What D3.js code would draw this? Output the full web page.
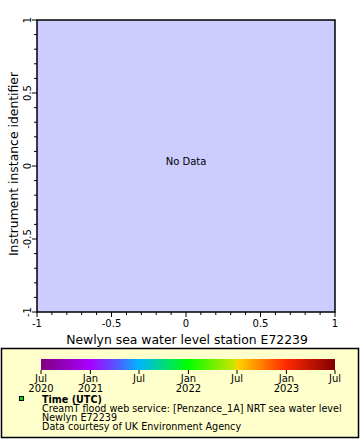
<!DOCTYPE html>
<html><head><meta charset="utf-8">
<script src="https://cdn.jsdelivr.net/npm/d3@7"></script>
<style>body{margin:0;background:#fff}svg{display:block;font-family:"DejaVu Sans",sans-serif}</style>
</head><body>
<svg id="c" width="360" height="440"></svg>
<script>
const xDomain = [-1, 1];
const yDomain = [-1, 1];
const xTicks = [-1, -0.5, 0, 0.5, 1];
const yTicks = [-1, -0.5, 0, 0.5, 1];
const xTickLabels = ["-1", "-0.5", "0", "0.5", "1"];
const yTickLabels = ["-1", "-0.5", "0", "0.5", "1"];
const timeDomain = ["2020-07-01", "2023-07-01"];
const timeTicks = ["2020-07-01","2021-01-01","2021-07-01","2022-01-01","2022-07-01","2023-01-01","2023-07-01"];
const timeTickLabels = [["Jul","2020"],["Jan","2021"],["Jul",""],["Jan","2022"],["Jul",""],["Jan","2023"],["Jul",""]];
const paletteStops = [0, 0.167, 0.25, 0.333, 0.5, 0.66, 0.667, 0.833, 1];
const paletteColors = ["#800080","#a800ff","#5a50ff","#00b4ff","#00ff00","#d0e400","#ffd400","#ff2a00","#800000"];
const legendLines = ["CreamT flood web service: [Penzance_1A] NRT sea water level","Newlyn E72239","Data courtesy of UK Environment Agency"];
const legendTitle = "Time (UTC)";
const xTitle = "Newlyn sea water level station E72239";
const yTitle = "Instrument instance identifier";
const noDataText = "No Data";

const svg = d3.select("#c");
const L = 37, R = 335, T = 20, B = 312;
const x = d3.scaleLinear().domain(xDomain).range([L, R]);
const y = d3.scaleLinear().domain(yDomain).range([B, T]);

svg.append("rect").attr("x", L).attr("y", T).attr("width", R - L).attr("height", B - T)
  .attr("fill", "#ccccff").attr("stroke", "#000").attr("stroke-width", 1.5);

const minor = d3.range(-10, 11).map(d => d / 10);
const gx = svg.append("g").attr("stroke", "#000").attr("stroke-width", 1);
minor.forEach(v => {
  const major = Math.abs(v * 2 - Math.round(v * 2)) < 1e-9;
  gx.append("line").attr("x1", x(v)).attr("x2", x(v)).attr("y1", B).attr("y2", B + (major ? 5 : 3));
  gx.append("line").attr("y1", y(v)).attr("y2", y(v)).attr("x1", L).attr("x2", L - (major ? 5 : 3));
});

xTicks.forEach((v, i) => {
  svg.append("text").attr("x", x(v)).attr("y", 327).attr("text-anchor", "middle")
    .attr("font-size", 10).text(xTickLabels[i]);
});
yTicks.forEach((v, i) => {
  svg.append("text").attr("transform", `translate(31,${y(v)}) rotate(-90)`).attr("text-anchor", "middle")
    .attr("font-size", 10).text(yTickLabels[i]);
});

svg.append("text").attr("x", 187).attr("y", 344).attr("text-anchor", "middle")
  .attr("font-size", 12.4).text(xTitle);
svg.append("text").attr("transform", `translate(18,${(T + B) / 2 - 2}) rotate(-90)`).attr("text-anchor", "middle")
  .attr("font-size", 12.4).text(yTitle);

svg.append("text").attr("x", x(0)).attr("y", y(0) - 1).attr("text-anchor", "middle")
  .attr("font-size", 10).text(noDataText);

svg.append("rect").attr("x", 1.5).attr("y", 348.5).attr("width", 357).attr("height", 89)
  .attr("fill", "#ffffcc").attr("stroke", "#000").attr("stroke-width", 1.5);

const t = d3.scaleTime().domain(timeDomain.map(d => new Date(d))).range([41, 335]);
const defs = svg.append("defs");
const grad = defs.append("linearGradient").attr("id", "pal");
paletteStops.forEach((s, i) => grad.append("stop").attr("offset", s).attr("stop-color", paletteColors[i]));
svg.append("rect").attr("x", 41).attr("y", 359).attr("width", 294).attr("height", 11).attr("fill", "url(#pal)");

timeTicks.forEach((d, i) => {
  const xx = t(new Date(d));
  svg.append("line").attr("x1", xx).attr("x2", xx).attr("y1", 370).attr("y2", 374).attr("stroke", "#000");
  svg.append("text").attr("x", xx).attr("y", 382).attr("text-anchor", "middle").attr("font-size", 10).text(timeTickLabels[i][0]);
  if (timeTickLabels[i][1]) svg.append("text").attr("x", xx).attr("y", 392).attr("text-anchor", "middle").attr("font-size", 10).text(timeTickLabels[i][1]);
});

svg.append("rect").attr("x", 19.5).attr("y", 396.5).attr("width", 4).attr("height", 4)
  .attr("fill", "#00e000").attr("stroke", "#000").attr("stroke-width", 1);
svg.append("text").attr("x", 42).attr("y", 403).attr("font-size", 9.6).attr("font-weight", "bold").text(legendTitle);
legendLines.forEach((l, i) => {
  svg.append("text").attr("x", 42).attr("y", 412 + i * 9).attr("font-size", 9.6).text(l);
});
</script>
</body></html>
